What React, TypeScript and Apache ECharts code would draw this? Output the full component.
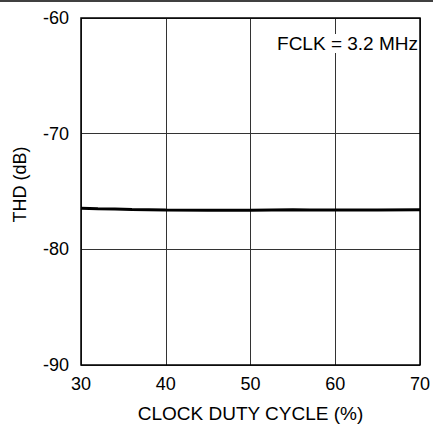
import React, { useEffect, useRef } from "react";
import * as echarts from "echarts";

const dutyCycle = [30, 32, 34, 36, 40, 45, 50, 55, 57, 60, 65, 70];
const thd = [-76.45, -76.5, -76.52, -76.55, -76.6, -76.62, -76.63, -76.58, -76.6, -76.6, -76.6, -76.58];
const xTicks = [30, 40, 50, 60, 70];
const yTicks = [-90, -80, -70, -60];
const annotation = "FCLK = 3.2 MHz";

export default function App() {
  const ref = useRef<HTMLDivElement>(null);
  useEffect(() => {
    document.body.style.margin = "0";
    const chart = echarts.init(ref.current!, null, { renderer: "svg" });
    const font = "'Liberation Sans', Arial, sans-serif";
    chart.setOption({
      animation: false,
      backgroundColor: "#fff",
      grid: { left: 81, right: 13, top: 18, bottom: 61, containLabel: false, outerBoundsMode: "none" },
      xAxis: {
        type: "value",
        min: xTicks[0],
        max: xTicks[xTicks.length - 1],
        interval: 10,
        name: "CLOCK DUTY CYCLE (%)",
        nameLocation: "middle",
        nameGap: 39,
        nameTextStyle: { fontFamily: font, fontSize: 19, color: "#000" },
        axisLine: { show: false },
        axisTick: { show: false },
        axisLabel: { fontFamily: font, fontSize: 18, color: "#000", margin: 10 },
        splitLine: { show: true, lineStyle: { color: "#333", width: 1 } },
      },
      yAxis: {
        type: "value",
        min: yTicks[0],
        max: yTicks[yTicks.length - 1],
        interval: 10,
        name: "THD (dB)",
        nameLocation: "middle",
        nameGap: 52,
        nameTextStyle: { fontFamily: font, fontSize: 18, color: "#000", padding: [0, 0, 0, 14] },
        axisLine: { show: false },
        axisTick: { show: false },
        axisLabel: { fontFamily: font, fontSize: 18, color: "#000", margin: 12 },
        splitLine: { show: true, lineStyle: { color: "#333", width: 1 } },
      },
      series: [
        {
          type: "line",
          data: dutyCycle.map((d, i) => [d, thd[i]]),
          showSymbol: false,
          lineStyle: { color: "#000", width: 3 },
          z: 5,
        },
      ],
      graphic: [
        {
          type: "rect",
          shape: { x: 81, y: 18, width: 339, height: 347 },
          style: { fill: "none", stroke: "#000", lineWidth: 1.5 },
          z: 10,
        },
        {
          type: "line",
          shape: { x1: 0, y1: 1, x2: 433, y2: 1 },
          style: { stroke: "#000", lineWidth: 1.5 },
        },
        {
          type: "text",
          right: 15,
          top: 34,
          style: {
            text: annotation,
            fontFamily: font,
            fontSize: 19,
            fill: "#000",
            backgroundColor: "#fff",
          },
          z: 11,
        },
      ],
    });
    return () => chart.dispose();
  }, []);
  return <div ref={ref} style={{ width: 433, height: 426 }} />;
}
